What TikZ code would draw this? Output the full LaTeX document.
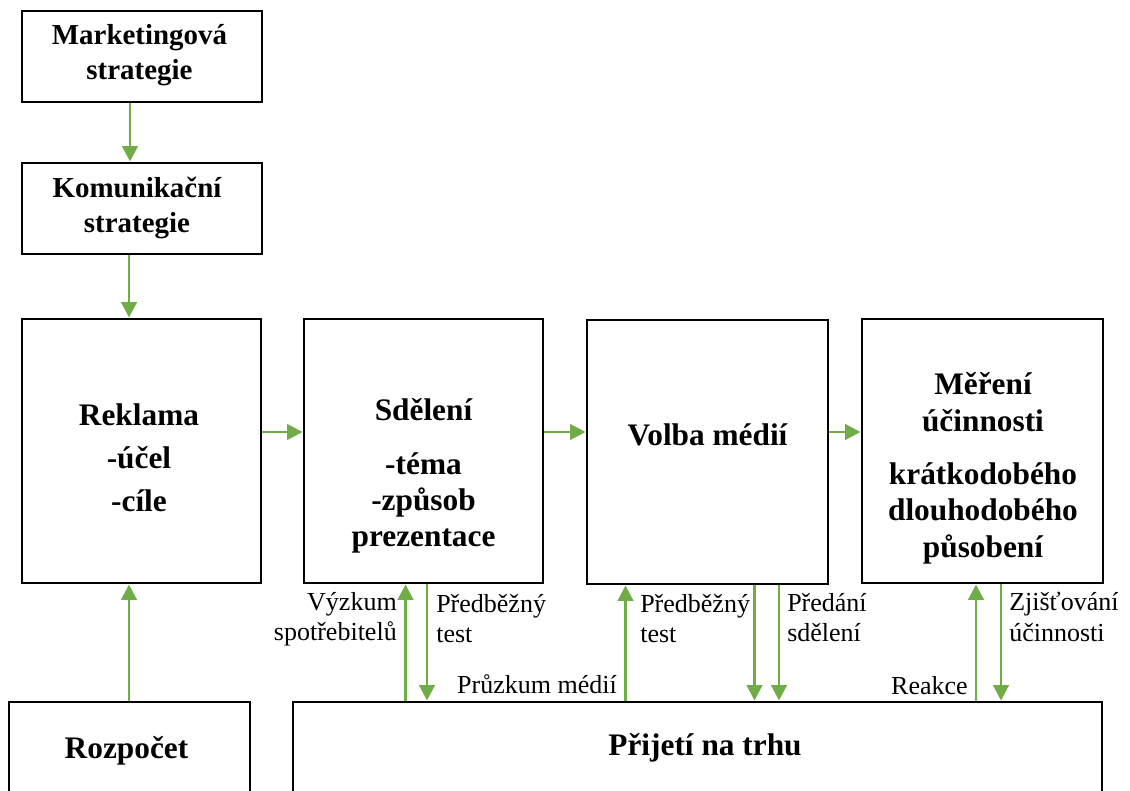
\documentclass[tikz,border=0pt]{standalone}
\usepackage{fontspec}
\setmainfont{Liberation Serif}
\usetikzlibrary{arrows.meta}
\definecolor{grn}{HTML}{70AD47}
\begin{document}
\begin{tikzpicture}[x=0.75pt,y=-0.75pt,
  box/.style={draw=black,line width=2.2pt,rectangle,inner sep=0pt},
  arr/.style={draw=grn,line width=2.2pt,-{Triangle[length=11.5pt,width=11.5pt]}},
  bt/.style={font=\fontsize{23.5}{27.2}\selectfont\bfseries,align=center,inner sep=0pt,anchor=base},
  bts/.style={font=\fontsize{21.7}{26.25}\selectfont\bfseries,align=center,inner sep=0pt,anchor=base},
  lt/.style={font=\fontsize{19.5}{22.5}\selectfont,inner sep=0pt}]
\useasboundingbox (0,0) rectangle (1130,791);
\clip (0,0) rectangle (1130,791);
% boxes
\node[box,minimum width=180pt,minimum height=68.25pt] (mk) at (142,56.5) {};
\node[box,minimum width=180pt,minimum height=68.25pt] (ko) at (142,208.5) {};
\node[box,minimum width=179.25pt,minimum height=198pt] (rek) at (141.5,451) {};
\node[box,minimum width=179.25pt,minimum height=198pt] (sd) at (423.5,451) {};
\node[box,minimum width=180.75pt,minimum height=198pt] (vm) at (707.5,452) {};
\node[box,minimum width=180.75pt,minimum height=198pt] (me) at (982.5,451) {};
\node[box,minimum width=180.75pt,minimum height=148.5pt] (roz) at (129.5,801) {};
\node[box,minimum width=606.75pt,minimum height=148.5pt] (pr) at (697.5,801) {};
% box texts (anchor = baseline of last line)
\node[bts] (mkT) at (139.5,80) {Marketingová\\strategie};
\node[bts] (koT) at (137,233) {Komunikační\\strategie};
\node[bt,font=\fontsize{23.5}{31.9}\selectfont\bfseries] (rekT) at (139,511) {Reklama\\-účel\\-cíle};
\node[bt] (sdT) at (423.5,546.7) {Sdělení\\[12.8pt]-téma\\-způsob\\prezentace};
\node[bt] (vmT) at (707.5,445) {Volba médií};
\node[bt,font=\fontsize{23.5}{27.5}\selectfont\bfseries] (meT) at (983,557.5) {Měření\\účinnosti\\[12.3pt]krátkodobého\\dlouhodobého\\působení};
\node[bt] (rozT) at (126.5,758) {Rozpočet};
\node[bt] (prT) at (705,755) {Přijetí na trhu};
% connectors
\draw[arr] (mk.south -| 130,0) -- (ko.north -| 130,0);
\draw[arr] (ko.south -| 129,0) -- (rek.north -| 129,0);
\draw[arr] (roz.north -| 129,0) -- (rek.south -| 129,0);
\draw[arr] (rek.east |- 0,432) -- (sd.west |- 0,432);
\draw[arr] (sd.east |- 0,432) -- (vm.west |- 0,432);
\draw[arr] (vm.east |- 0,432) -- (me.west |- 0,432);
\draw[arr] (pr.north -| 405.5,0) -- (sd.south -| 405.5,0);
\draw[arr] (sd.south -| 427,0) -- (pr.north -| 427,0);
\draw[arr] (pr.north -| 625.5,0) -- (vm.south -| 625.5,0);
\draw[arr] (vm.south -| 754.5,0) -- (pr.north -| 754.5,0);
\draw[arr] (vm.south -| 779,0) -- (pr.north -| 779,0);
\draw[arr] (pr.north -| 976,0) -- (me.south -| 976,0);
\draw[arr] (me.south -| 1001,0) -- (pr.north -| 1001,0);
% connector labels
\node[lt,anchor=base east,align=right] (vyz) at (397,640.5) {Výzkum\\spotřebitelů};
\node[lt,anchor=base west,align=left] (pt1) at (436,642.7) {Předběžný\\test};
\node[lt,anchor=base east] (pm) at (617,693) {Průzkum médií};
\node[lt,anchor=base west,align=left] (pt2) at (640,642.7) {Předběžný\\test};
\node[lt,anchor=base west,align=left] (pred) at (787,641.7) {Předání\\sdělení};
\node[lt,anchor=base east] (rea) at (968,694) {Reakce};
\node[lt,anchor=base west,align=left,font=\fontsize{19.5}{23}\selectfont] (zj) at (1009,641.5) {Zjišťování\\účinnosti};
\end{tikzpicture}
\end{document}
